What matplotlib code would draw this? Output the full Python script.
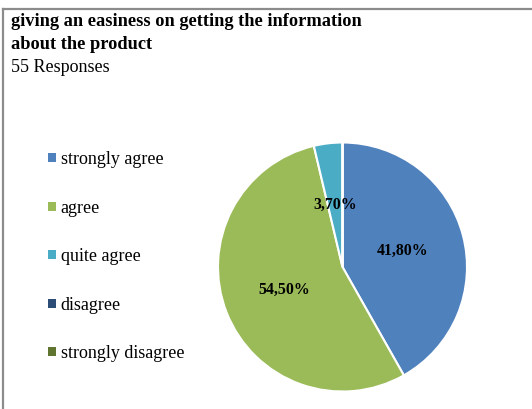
import matplotlib
matplotlib.use("Agg")
import matplotlib.pyplot as plt
from matplotlib.lines import Line2D

# survey answers (percent of 55 responses)
categories = ["strongly agree", "agree", "quite agree", "disagree", "strongly disagree"]
percents = [41.8, 54.5, 3.7, 0.0, 0.0]
colors = ["#4F81BD", "#9BBB59", "#4BACC6", "#2C4D75", "#5F7530"]

title_lines = ["giving an easiness on getting the information", "about the product"]
subtitle = "55 Responses"

plt.rcParams['font.family'] = ['Liberation Serif', 'DejaVu Serif']

W, H = 532, 409
fig = plt.figure(figsize=(W / 100, H / 100), dpi=100)

# grey frame along the top and left edges
fig.add_artist(Line2D([3 / W, 3 / W], [0, 1 - 8.5 / H], color="#8c8c8c", lw=1.6))
fig.add_artist(Line2D([3 / W, 1], [1 - 8.5 / H, 1 - 8.5 / H], color="#8c8c8c", lw=1.6))

for i, line in enumerate(title_lines):
    fig.text(11 / W, 1 - (26 + 23 * i) / H, line, fontsize=13.2, fontweight="bold",
             va="baseline", ha="left")
fig.text(11 / W, 1 - 72 / H, subtitle, fontsize=13, va="baseline", ha="left")

# pie: centre (342.5, 267) px, radius 124.5 px
cx, cy, r = 342.5, 267, 124.5
ax = fig.add_axes([(cx - r) / W, (H - cy - r) / H, 2 * r / W, 2 * r / H])


def fmt(p):
    if p <= 0:
        return ""
    return f"{p:.2f}".replace(".", ",") + "%"


wedges, texts, autotexts = ax.pie(
    percents, colors=colors, startangle=90, counterclock=False,
    autopct=fmt, pctdistance=0.5,
    wedgeprops=dict(edgecolor="white", linewidth=1.5),
    textprops=dict(fontsize=11.4, fontweight="bold", color="black"))
ax.set_xlim(-1, 1)
ax.set_ylim(-1, 1)
ax.set_aspect("equal")
ax.axis("off")

handles = [plt.Rectangle((0, 0), 1, 1, facecolor=c, edgecolor="none") for c in colors]
fig.legend(handles, categories, loc="upper left",
           bbox_to_anchor=(41 / W, 1 - 144 / H), frameon=False,
           fontsize=13, handlelength=0.42, handleheight=0.42,
           handletextpad=0.28, labelspacing=1.745, borderaxespad=0)

fig.savefig("out.png", dpi=100, facecolor="white")
